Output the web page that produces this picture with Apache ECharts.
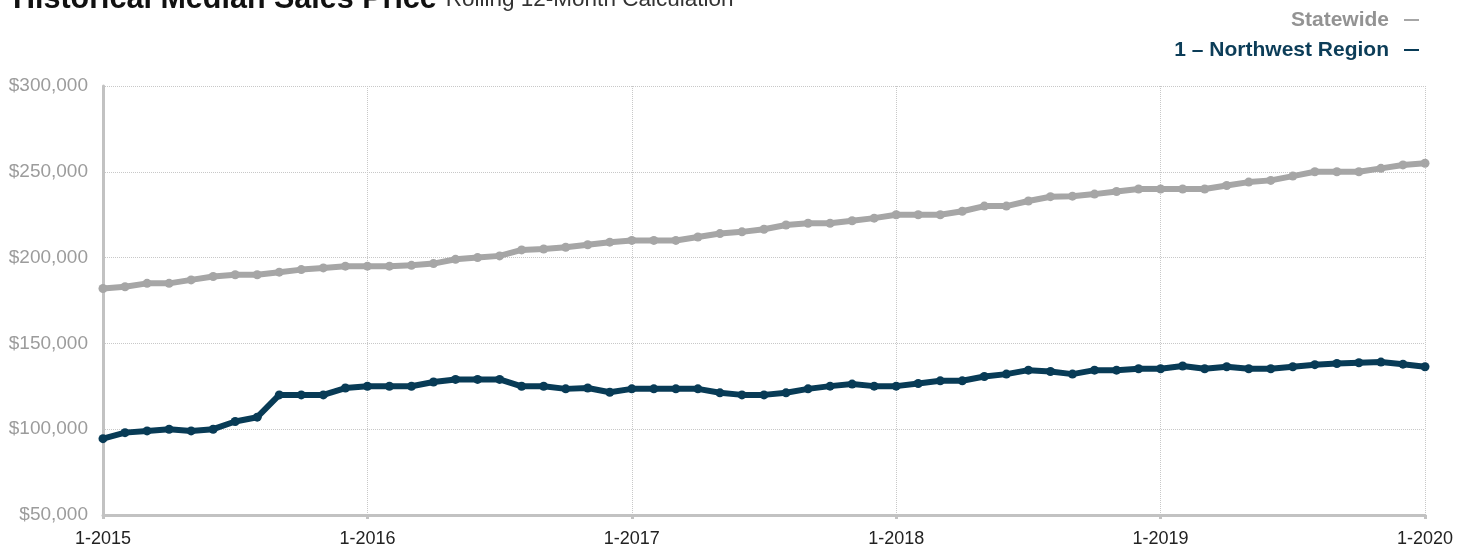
<!DOCTYPE html>
<html>
<head>
<meta charset="utf-8">
<script src="https://cdn.jsdelivr.net/npm/echarts@6/dist/echarts.min.js"></script>
<style>
html,body{margin:0;padding:0;background:#fff;}
#c{width:1473px;height:548px;}
</style>
</head>
<body>
<div id="c"></div>
<script>
// Monthly categories, Jan 2015 .. Jan 2020
const months = [];
for (let y = 2015; y <= 2020; y++) {
  for (let m = 1; m <= 12; m++) {
    if (y === 2020 && m > 1) break;
    months.push(m + '-' + y);
  }
}
const seriesNames = ['Statewide', '1 \u2013 Northwest Region'];
const statewide = [
  182000,183000,185000,185000,187000,189000,190000,190000,191500,193000,194000,195000,
  195000,195000,195500,196500,199000,200000,201000,204500,205000,206000,207500,209000,
  210000,210000,210000,212000,214000,215000,216500,219000,220000,220000,221500,223000,
  225000,225000,225000,227000,230000,230000,233000,235500,235800,237000,238500,240000,
  240000,240000,240000,242000,244000,245000,247500,250000,250000,250000,252000,254000,
  255000
];
const northwest = [
  94500,98000,99000,100000,99000,100000,104500,107000,120000,120000,120000,124000,
  125000,125000,125000,127500,129000,129000,129000,125000,125000,123500,124000,121500,
  123500,123500,123500,123500,121200,120000,120000,121200,123500,125100,126300,125100,
  125100,126600,128200,128200,130700,132100,134400,133600,132100,134400,134400,135200,
  135200,136800,135200,136400,135200,135200,136400,137600,138300,138700,139100,137900,
  136400
];
const yTicks = { min: 50000, max: 300000, interval: 50000 };
const titleText = 'Historical Median Sales Price';
const subtitleText = 'Rolling 12-Month Calculation';

const FONT = '"Liberation Sans", Arial, Helvetica, sans-serif';
const GRAY = '#a6a6a6';
const NAVY = '#083b56';

const chart = echarts.init(document.getElementById('c'), null, { renderer: 'canvas' });
const yearIdx = (i) => i % 12 === 0;

chart.setOption({
  animation: false,
  textStyle: { fontFamily: FONT },
  title: {
    left: 8,
    top: -20,
    padding: 5,
    text: '{a|' + titleText + '} {b|' + subtitleText + '}',
    textStyle: {
      fontWeight: 'normal',
      rich: {
        a: { fontFamily: FONT, fontSize: 30.5, fontWeight: 'bold', color: '#111', lineHeight: 30 },
        b: { fontFamily: FONT, fontSize: 22.5, fontWeight: 'normal', color: '#333', lineHeight: 30, padding: [0, 0, 0, 4] }
      }
    }
  },
  legend: {
    orient: 'vertical',
    right: 54,
    top: 8,
    padding: 0,
    align: 'right',
    itemGap: 6,
    itemWidth: 15,
    itemHeight: 2,
    icon: 'rect',
    selectedMode: false,
    textStyle: { fontFamily: FONT, fontSize: 21, fontWeight: 'bold', lineHeight: 24, padding: [0, 10, 0, 0] },
    data: [
      { name: seriesNames[0], textStyle: { color: '#939393' } },
      { name: seriesNames[1], textStyle: { color: '#0c3d58' } }
    ]
  },
  grid: { left: 103, right: 48, top: 86, bottom: 33, containLabel: false },
  xAxis: {
    type: 'category',
    data: months,
    boundaryGap: false,
    axisLine: { show: true, lineStyle: { color: '#c2c2c2', width: 3 } },
    axisTick: { show: true, interval: yearIdx, length: 4, lineStyle: { color: '#c2c2c2', width: 3 } },
    axisLabel: { interval: yearIdx, color: '#222', fontSize: 18, margin: 15, fontFamily: FONT },
    splitLine: { show: true, interval: yearIdx, lineStyle: { color: '#c8c8c8', type: 'dotted', width: 1 } }
  },
  yAxis: {
    type: 'value',
    min: yTicks.min,
    max: yTicks.max,
    interval: yTicks.interval,
    axisLine: { show: true, lineStyle: { color: '#c2c2c2', width: 3 } },
    axisTick: { show: false },
    axisLabel: {
      color: '#9c9c9c', fontSize: 19, margin: 15, fontFamily: FONT,
      formatter: (v) => '$' + v.toLocaleString('en-US')
    },
    splitLine: { show: true, lineStyle: { color: '#c8c8c8', type: 'dotted', width: 1 } }
  },
  series: [
    {
      name: seriesNames[0], type: 'line', data: statewide,
      symbol: 'circle', symbolSize: 9,
      lineStyle: { color: GRAY, width: 6 }, itemStyle: { color: GRAY }
    },
    {
      name: seriesNames[1], type: 'line', data: northwest,
      symbol: 'circle', symbolSize: 9,
      lineStyle: { color: NAVY, width: 6 }, itemStyle: { color: NAVY }
    }
  ]
});
</script>
</body>
</html>
